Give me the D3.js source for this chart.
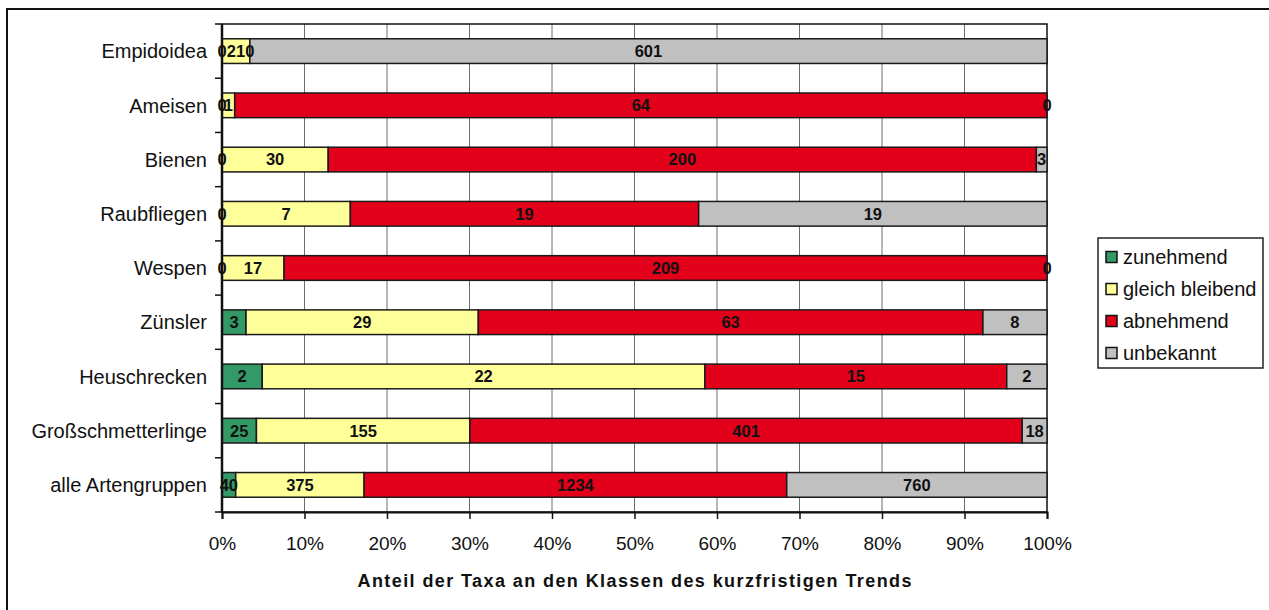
<!DOCTYPE html>
<html>
<head>
<meta charset="utf-8">
<script src="https://cdn.jsdelivr.net/npm/d3@7"></script>
<style>
  body { margin: 0; background: #fff; }
  svg { display: block; font-family: Arial, "Liberation Sans", sans-serif; }
</style>
</head>
<body>
<div id="main"></div>
<script>
// =========================== Data =======================
var categories = ['Empidoidea', 'Ameisen', 'Bienen', 'Raubfliegen', 'Wespen',
	'Zünsler', 'Heuschrecken', 'Großschmetterlinge', 'alle Artengruppen'];
var seriesNames = ['zunehmend', 'gleich bleibend', 'abnehmend', 'unbekannt'];
var zunehmend      = [0, 0, 0, 0, 0, 3, 2, 25, 40];
var gleichBleibend = [21, 1, 30, 7, 17, 29, 22, 155, 375];
var abnehmend      = [0, 64, 200, 19, 209, 63, 15, 401, 1234];
var unbekannt      = [601, 0, 3, 19, 0, 8, 2, 18, 760];
var xTicks = [0, 0.1, 0.2, 0.3, 0.4, 0.5, 0.6, 0.7, 0.8, 0.9, 1];
var axisTitle = 'Anteil der Taxa an den Klassen des kurzfristigen Trends';

// =========================== Layout =======================
var seriesColor = ['#339966', '#ffff99', '#e2001a', '#c0c0c0'];
const svgResolution = { "width": 1269, "height": 610 };
const plot = { left: 222, right: 1047, top: 24, bottom: 512 };

var rows = categories.map(function(c, i){
	return { cat: c, s0: zunehmend[i], s1: gleichBleibend[i], s2: abnehmend[i], s3: unbekannt[i] };
});
var keys = ['s0', 's1', 's2', 's3'];
var stacked = d3.stack().keys(keys).offset(d3.stackOffsetExpand)(rows);

const svg = d3.select('#main').append('svg')
	.attr('width', svgResolution.width)
	.attr('height', svgResolution.height);

// outer chart frame (runs off the right and bottom edges)
svg.append('rect')
	.attr('x', 7).attr('y', 9)
	.attr('width', 1300).attr('height', 640)
	.attr('fill', 'none').attr('stroke', '#111').attr('stroke-width', 2);

var x = d3.scaleLinear().domain([0, 1]).range([plot.left, plot.right]);
var y = d3.scaleBand().domain(categories)
	.range([plot.top, plot.bottom])
	.paddingInner(0.545).paddingOuter(0.2725);
var yBand = d3.scaleBand().domain(categories).range([plot.top, plot.bottom]);

// gridlines
svg.append('g').selectAll('line')
	.data(xTicks.slice(1, -1))
	.enter().append('line')
	.attr('x1', d => x(d)).attr('x2', d => x(d))
	.attr('y1', plot.top).attr('y2', plot.bottom)
	.attr('stroke', '#6e6e6e').attr('stroke-width', 1);

// plot area border
svg.append('rect')
	.attr('x', plot.left).attr('y', plot.top)
	.attr('width', plot.right - plot.left).attr('height', plot.bottom - plot.top)
	.attr('fill', 'none').attr('stroke', '#111').attr('stroke-width', 1.5);

// ====================== bars ===================
var layer = svg.append('g').selectAll('g')
	.data(stacked)
	.enter().append('g')
	.attr('fill', (d, i) => seriesColor[i]);

layer.selectAll('rect')
	.data(d => d)
	.enter().append('rect')
	.attr('x', d => x(d[0]))
	.attr('y', d => y(d.data.cat))
	.attr('width', d => x(d[1]) - x(d[0]))
	.attr('height', y.bandwidth())
	.attr('stroke', '#1a1a1a').attr('stroke-width', 1.5);

// value labels (zero values sit on the segment edge, like the original)
stacked.forEach(function(s){
	svg.append('g').selectAll('text')
		.data(s)
		.enter().append('text')
		.attr('x', d => (x(d[0]) + x(d[1])) / 2)
		.attr('y', d => y(d.data.cat) + y.bandwidth() / 2)
		.attr('dy', '0.36em')
		.attr('text-anchor', 'middle')
		.style('font-size', '16.5px').style('font-weight', 'bold').style('fill', '#111')
		.text(d => d.data[s.key]);
});

// ====================== axes ===================
var xAxis = d3.axisBottom(x).tickValues(xTicks)
	.tickFormat(d3.format('.0%')).tickSize(7).tickPadding(18);
var gx = svg.append('g')
	.attr('transform', 'translate(0,' + plot.bottom + ')')
	.call(xAxis);
gx.select('.domain').attr('stroke', '#111').attr('stroke-width', 2);
gx.selectAll('.tick line').attr('stroke', '#111').attr('stroke-width', 1.5);
gx.selectAll('text').style('font-size', '19px').style('fill', '#111');

var gy = svg.append('g');
gy.append('line')
	.attr('x1', plot.left).attr('x2', plot.left)
	.attr('y1', plot.top).attr('y2', plot.bottom)
	.attr('stroke', '#111').attr('stroke-width', 2.5);
gy.selectAll('line.tick')
	.data(categories.concat(['end']))
	.enter().append('line')
	.attr('class', 'tick')
	.attr('x1', plot.left - 7).attr('x2', plot.left)
	.attr('y1', (d, i) => i < categories.length ? yBand(d) : plot.bottom)
	.attr('y2', (d, i) => i < categories.length ? yBand(d) : plot.bottom)
	.attr('stroke', '#111').attr('stroke-width', 1.5);
gy.selectAll('text')
	.data(categories)
	.enter().append('text')
	.attr('x', 207)
	.attr('y', d => y(d) + y.bandwidth() / 2)
	.attr('dy', '0.36em')
	.attr('text-anchor', 'end')
	.style('font-size', '20px').style('fill', '#111')
	.text(d => d);

svg.append('text')
	.attr('x', (plot.left + plot.right) / 2)
	.attr('y', 587)
	.attr('text-anchor', 'middle')
	.attr('textLength', 554).attr('lengthAdjust', 'spacing')
	.style('font-size', '18px').style('font-weight', 'bold').style('fill', '#111')
	.text(axisTitle);

// ====================== legend ===================
var legend = svg.append('g');
legend.append('rect')
	.attr('x', 1098).attr('y', 238).attr('width', 165).attr('height', 130)
	.attr('fill', '#fff').attr('stroke', '#222').attr('stroke-width', 1.5);
var item = legend.selectAll('g.item')
	.data(seriesNames)
	.enter().append('g')
	.attr('class', 'item')
	.attr('transform', (d, i) => 'translate(1106,' + (257 + i * 32) + ')');
item.append('rect')
	.attr('x', 0).attr('y', -5.5).attr('width', 11).attr('height', 11)
	.attr('fill', (d, i) => seriesColor[i])
	.attr('stroke', '#111').attr('stroke-width', 1.5);
item.append('text')
	.attr('x', 17).attr('dy', '0.36em')
	.style('font-size', '20px').style('fill', '#111')
	.text(d => d);
</script>
</body>
</html>
